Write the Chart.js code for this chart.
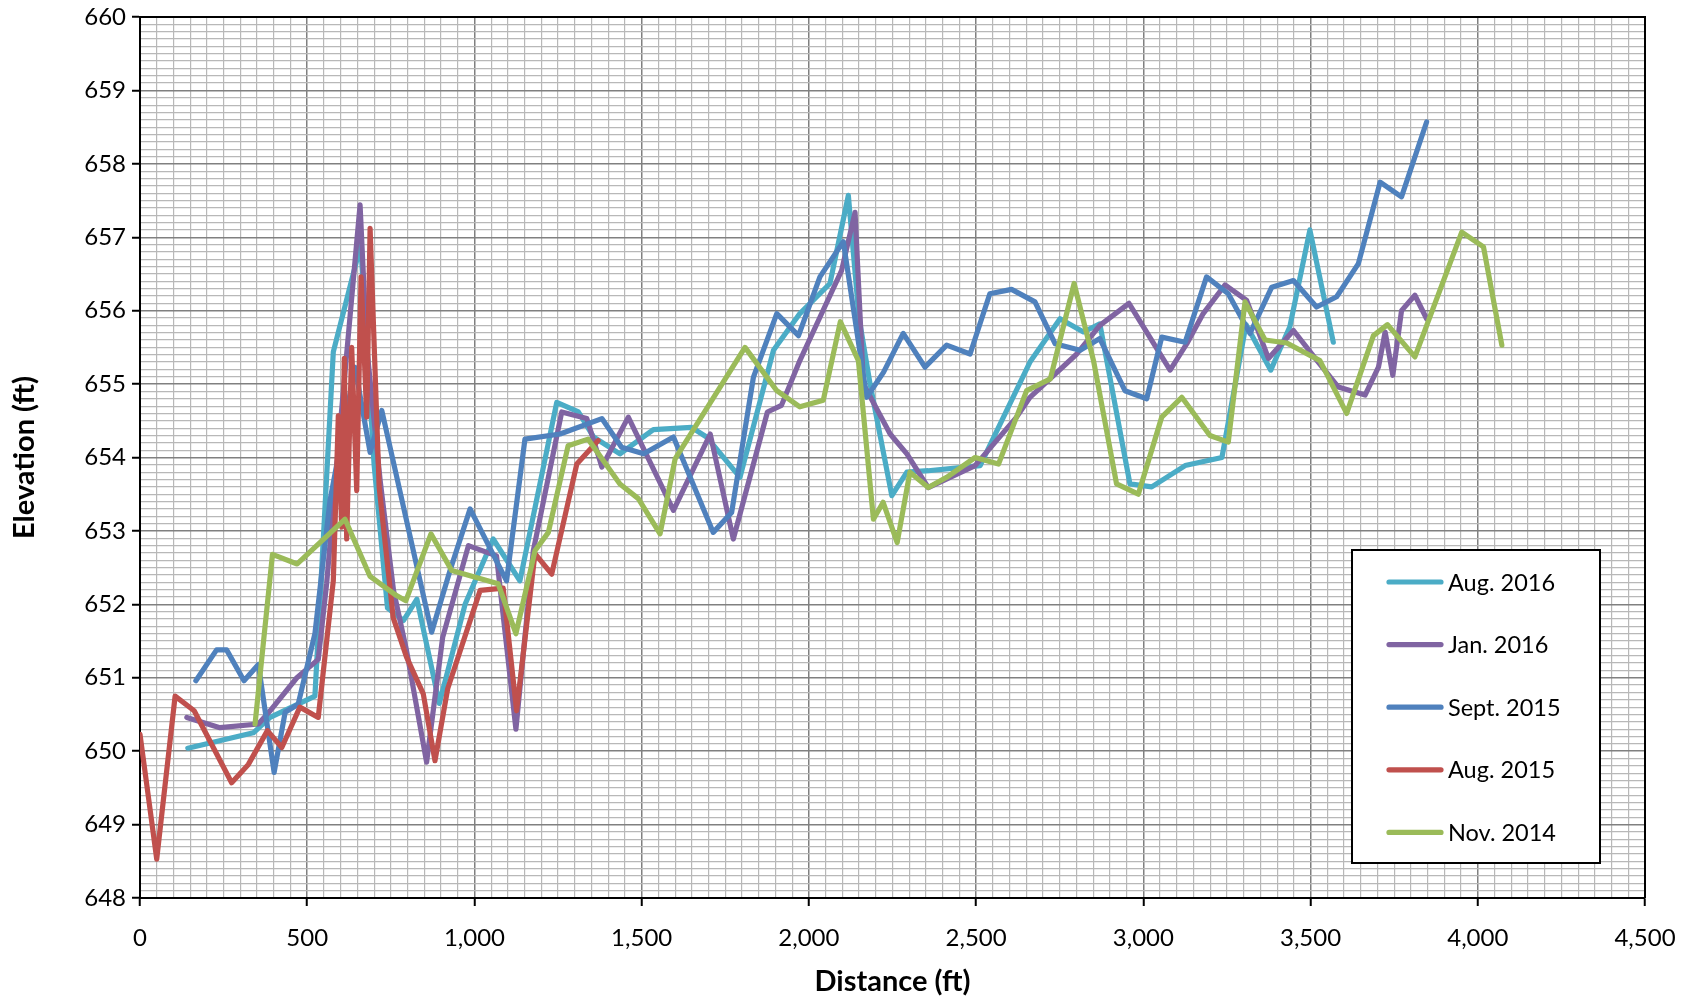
<!DOCTYPE html>
<html>
<head>
<meta charset="utf-8">
<title>Elevation profile</title>
<script src="https://cdn.jsdelivr.net/npm/chart.js@4.4.1/dist/chart.umd.min.js"></script>
<style>
    html, body { margin: 0; padding: 0; background: #fff; }
    #wrap { width: 1696px; height: 1003px; }
</style>
</head>
<body>
<div id="wrap"><canvas id="chart" width="1696" height="1003"></canvas></div>
<script>
// Survey lines (distance ft / elevation ft)
const aug2016X = [143, 339, 389, 523, 578, 660, 700, 740, 788, 828, 895, 972, 1056, 1136, 1246, 1311, 1356, 1435, 1535, 1649, 1694, 1794, 1894, 1973, 2063, 2118, 2150, 2183, 2248, 2293, 2357, 2512, 2661, 2751, 2821, 2870, 2960, 3025, 3125, 3235, 3307, 3381, 3438, 3498, 3568];
const aug2016Y = [650.04, 650.25, 650.46, 650.75, 655.44, 656.9, 653.9, 651.95, 651.78, 652.07, 650.65, 652.0, 652.89, 652.32, 654.75, 654.62, 654.28, 654.05, 654.38, 654.41, 654.28, 653.73, 655.46, 655.96, 656.37, 657.57, 655.9, 655.0, 653.48, 653.8, 653.82, 653.89, 655.3, 655.89, 655.71, 655.82, 653.64, 653.6, 653.89, 654.0, 655.81, 655.19, 655.78, 657.1, 655.57];

const jan2016X = [140, 239, 354, 389, 469, 533, 558, 600, 658, 678, 718, 758, 797, 857, 905, 982, 1066, 1124, 1176, 1261, 1336, 1381, 1460, 1595, 1705, 1774, 1876, 1918, 1973, 2033, 2098, 2138, 2163, 2243, 2293, 2357, 2497, 2621, 2661, 2801, 2870, 2957, 3080, 3130, 3179, 3244, 3309, 3374, 3449, 3523, 3583, 3663, 3703, 3723, 3746, 3772, 3812, 3847];
const jan2016Y = [650.46, 650.32, 650.37, 650.55, 651.0, 651.25, 652.28, 654.5, 657.44, 655.5, 653.69, 652.19, 651.37, 649.85, 651.55, 652.8, 652.66, 650.3, 652.73, 654.62, 654.53, 653.87, 654.55, 653.28, 654.32, 652.89, 654.62, 654.71, 655.32, 655.91, 656.55, 657.34, 655.0, 654.32, 654.05, 653.59, 653.89, 654.55, 654.82, 655.41, 655.8, 656.1, 655.19, 655.55, 655.96, 656.35, 656.14, 655.35, 655.73, 655.3, 654.96, 654.85, 655.23, 655.71, 655.12, 656.0, 656.21, 655.89];

const sep2015X = [167, 229, 259, 311, 354, 401, 434, 473, 523, 568, 643, 688, 723, 872, 927, 987, 1096, 1151, 1256, 1381, 1440, 1506, 1595, 1714, 1769, 1834, 1904, 1969, 2033, 2103, 2173, 2223, 2282, 2347, 2412, 2482, 2541, 2606, 2676, 2736, 2811, 2870, 2945, 3010, 3055, 3125, 3189, 3254, 3319, 3384, 3449, 3518, 3578, 3643, 3708, 3772, 3847];
const sep2015Y = [650.96, 651.38, 651.38, 650.96, 651.18, 649.71, 650.53, 650.64, 651.6, 653.41, 655.23, 654.07, 654.64, 651.62, 652.46, 653.3, 652.32, 654.25, 654.32, 654.53, 654.14, 654.05, 654.28, 652.98, 653.25, 655.09, 655.96, 655.66, 656.46, 656.94, 654.82, 655.16, 655.69, 655.23, 655.53, 655.41, 656.23, 656.29, 656.12, 655.55, 655.46, 655.62, 654.91, 654.8, 655.64, 655.57, 656.46, 656.23, 655.69, 656.32, 656.41, 656.05, 656.19, 656.64, 657.75, 657.55, 658.57];

const aug2015X = [0, 50, 105, 162, 274, 324, 381, 424, 478, 533, 578, 593, 603, 611, 618, 633, 648, 661, 678, 688, 715, 757, 797, 847, 882, 920, 1017, 1086, 1126, 1181, 1231, 1306, 1370];
const aug2015Y = [650.23, 648.53, 650.75, 650.55, 649.57, 649.82, 650.28, 650.05, 650.6, 650.46, 652.32, 654.57, 653.05, 655.35, 652.89, 655.5, 653.55, 656.46, 654.55, 657.12, 653.6, 651.82, 651.28, 650.78, 649.87, 650.85, 652.19, 652.22, 650.55, 652.69, 652.41, 653.91, 654.23];

const nov2014X = [344, 396, 470, 613, 688, 767, 795, 870, 932, 1071, 1124, 1181, 1221, 1280, 1340, 1435, 1490, 1555, 1600, 1809, 1904, 1973, 2043, 2094, 2148, 2193, 2222, 2264, 2302, 2357, 2412, 2497, 2567, 2651, 2722, 2793, 2851, 2920, 2985, 3055, 3115, 3199, 3254, 3304, 3364, 3429, 3528, 3608, 3688, 3730, 3812, 3952, 4017, 4072];
const nov2014Y = [650.37, 652.68, 652.55, 653.16, 652.38, 652.12, 652.05, 652.96, 652.46, 652.28, 651.6, 652.73, 652.98, 654.16, 654.25, 653.64, 653.44, 652.96, 653.98, 655.5, 654.91, 654.69, 654.78, 655.85, 655.32, 653.16, 653.39, 652.84, 653.8, 653.59, 653.73, 654.0, 653.91, 654.91, 655.07, 656.37, 655.32, 653.64, 653.5, 654.55, 654.82, 654.3, 654.21, 656.12, 655.6, 655.56, 655.32, 654.6, 655.66, 655.81, 655.37, 657.07, 656.87, 655.53];

// axis ticks (major labelled, minor grid every 50 ft / 0.1 ft)
const xMajor = [0, 500, 1000, 1500, 2000, 2500, 3000, 3500, 4000, 4500];
const yMajor = [648, 649, 650, 651, 652, 653, 654, 655, 656, 657, 658, 659, 660];
const xMinorStep = 50;
const yMinorSteps = 10;

const FONT = 'Lato';
const MAJOR_GRID = '#808080';
const MINOR_GRID = '#b8b8b8';

const xGrid = [];
for (let v = xMajor[0]; v <= xMajor[xMajor.length - 1]; v += xMinorStep) xGrid.push(v);
const yGrid = [];
for (let i = 0; i <= (yMajor[yMajor.length - 1] - yMajor[0]) * yMinorSteps; i++) {
    yGrid.push(Math.round(yMajor[0] * yMinorSteps + i) / yMinorSteps);
}

const isMajorX = v => xMajor.includes(v);
const isMajorY = v => Math.abs(v - Math.round(v)) < 1e-6;

function series(label, xs, ys, color) {
    return {
        label,
        data: xs.map((x, i) => ({ x, y: ys[i] })),
        borderColor: color,
        backgroundColor: color,
        borderWidth: 5.2,
        borderCapStyle: 'round',
        borderJoinStyle: 'round',
        pointRadius: 0,
        showLine: true,
        tension: 0
    };
}

// first dataset is painted on top, legend lists them the other way round
const datasets = [
    series('Nov. 2014', nov2014X, nov2014Y, '#9bbb59'),
    series('Aug. 2015', aug2015X, aug2015Y, '#c0504d'),
    series('Sept. 2015', sep2015X, sep2015Y, '#4f81bd'),
    series('Jan. 2016', jan2016X, jan2016Y, '#8064a2'),
    series('Aug. 2016', aug2016X, aug2016Y, '#4bacc6')
];

const frame = {
    id: 'frame',
    afterDraw(chart) {
        const { ctx, chartArea: a } = chart;
        ctx.save();
        ctx.strokeStyle = '#000';
        ctx.lineWidth = 2;
        ctx.beginPath();
        ctx.moveTo(a.left, a.top);
        ctx.lineTo(a.right, a.top);
        ctx.lineTo(a.right, a.bottom);
        ctx.stroke();

        // legend box
        const x0 = a.right - 293, y0 = a.bottom - 348, w = 248, h = 313;
        ctx.fillStyle = '#fff';
        ctx.fillRect(x0, y0, w, h);
        ctx.strokeRect(x0, y0, w, h);
        ctx.font = `23.5px ${FONT}`;
        ctx.textBaseline = 'middle';
        ctx.lineCap = 'round';
        [...chart.data.datasets].reverse().forEach((ds, i) => {
            const y = y0 + 32 + i * 62.6;
            ctx.strokeStyle = ds.borderColor;
            ctx.lineWidth = 5.2;
            ctx.beginPath();
            ctx.moveTo(x0 + 37, y);
            ctx.lineTo(x0 + 89, y);
            ctx.stroke();
            ctx.fillStyle = '#000';
            ctx.fillText(ds.label, x0 + 96, y + 1);
        });
        ctx.restore();
    }
};

new Chart(document.getElementById('chart'), {
    type: 'scatter',
    data: { datasets },
    plugins: [frame],
    options: {
        responsive: false,
        animation: false,
        layout: { padding: { top: 17, right: 51, left: 0, bottom: 0 } },
        plugins: { legend: { display: false }, tooltip: { enabled: false } },
        scales: {
            x: {
                type: 'linear',
                min: xMajor[0],
                max: xMajor[xMajor.length - 1],
                afterBuildTicks: s => { s.ticks = xGrid.map(v => ({ value: v })); },
                afterFit: s => { s.height = 105; s.paddingLeft = 0; s.paddingRight = 0; },
                ticks: {
                    autoSkip: false,
                    maxRotation: 0,
                    padding: 18,
                    color: '#000',
                    font: { family: FONT, size: 24 },
                    callback: v => isMajorX(v) ? v.toLocaleString('en-US') : ''
                },
                grid: {
                    color: c => c.tick && isMajorX(c.tick.value) ? MAJOR_GRID : MINOR_GRID,
                    lineWidth: c => c.tick && isMajorX(c.tick.value) ? 1.5 : 1.2,
                    tickLength: 8,
                    tickWidth: 2,
                    tickColor: c => c.tick && isMajorX(c.tick.value) ? '#000' : 'rgba(0,0,0,0)'
                },
                border: { color: '#000', width: 2 },
                title: {
                    display: true,
                    text: 'Distance (ft)',
                    color: '#000',
                    font: { family: FONT, size: 29, weight: 'bold' },
                    padding: { top: 4, bottom: 4 }
                }
            },
            y: {
                type: 'linear',
                min: yMajor[0],
                max: yMajor[yMajor.length - 1],
                afterBuildTicks: s => { s.ticks = yGrid.map(v => ({ value: v })); },
                afterFit: s => { s.width = 140; s.paddingTop = 0; s.paddingBottom = 0; },
                ticks: {
                    autoSkip: false,
                    padding: 6,
                    color: '#000',
                    font: { family: FONT, size: 24 },
                    callback: v => isMajorY(v) ? String(Math.round(v)) : ''
                },
                grid: {
                    color: c => c.tick && isMajorY(c.tick.value) ? MAJOR_GRID : MINOR_GRID,
                    lineWidth: c => c.tick && isMajorY(c.tick.value) ? 1.5 : 1.2,
                    tickLength: 8,
                    tickWidth: 2,
                    tickColor: c => c.tick && isMajorY(c.tick.value) ? '#000' : 'rgba(0,0,0,0)'
                },
                border: { color: '#000', width: 2 },
                title: {
                    display: true,
                    text: 'Elevation (ft)',
                    color: '#000',
                    font: { family: FONT, size: 29, weight: 'bold' },
                    padding: { top: 7, bottom: 7 }
                }
            }
        }
    }
});
</script>
</body>
</html>
